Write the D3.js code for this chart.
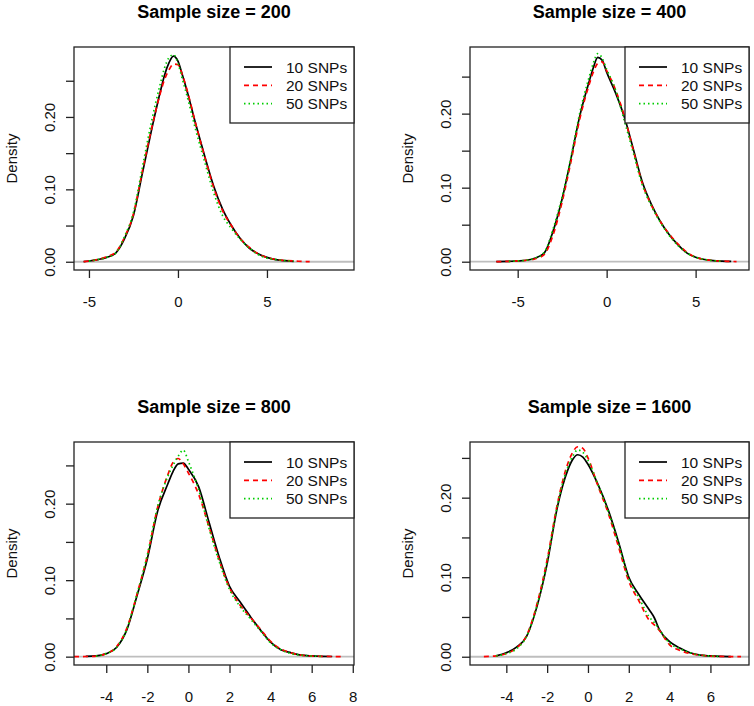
<!DOCTYPE html>
<html>
<head>
<meta charset="utf-8">
<script src="https://cdn.jsdelivr.net/npm/d3@7"></script>
<style>
  html, body { margin: 0; padding: 0; background: #fff; }
  svg { display: block; }
  text { font-family: "Liberation Sans", Arial, sans-serif; }
</style>
</head>
<body>
<svg id="chart" width="754" height="706"></svg>
<script>
// ---------------- DATA ----------------
const panelTitles = ["Sample size = 200", "Sample size = 400", "Sample size = 800", "Sample size = 1600"];
const seriesNames = ["10 SNPs", "20 SNPs", "50 SNPs"];
const seriesColors = ["#000000", "#FF0000", "#00CD00"];
const seriesDash = [null, "5,4", "1.5,3"];

const xLimits = [[-5.84, 9.89], [-7.68, 8.0], [-5.57, 8.06], [-5.78, 7.89]];
const yLimits = [[-0.0114, 0.2966], [-0.0112, 0.290], [-0.0109, 0.2806], [-0.0104, 0.270]];

const xTicks = [[-5, 0, 5], [-5, 0, 5], [-4, -2, 0, 2, 4, 6, 8], [-4, -2, 0, 2, 4, 6]];
const yTicks = [0, 0.05, 0.10, 0.15, 0.20, 0.25];
const yTickLabels = ["0.00", "", "0.10", "", "0.20", ""];

// Panel 1: sample size 200
const x200 = [-5.3,-5,-4.5,-4,-3.5,-3,-2.5,-2,-1.5,-1,-0.75,-0.5,-0.25,0,0.25,0.5,1,1.5,2,2.5,3,3.5,4,4.5,5,5.5,6,6.5,7,7.4];
const snp10_200 = [0.0003,0.001,0.003,0.006,0.012,0.032,0.064,0.122,0.180,0.234,0.258,0.275,0.284,0.277,0.258,0.237,0.190,0.146,0.105,0.073,0.050,0.032,0.019,0.011,0.006,0.003,0.0015,0.0006,null,null];
const snp20_200 = [0.0003,0.001,0.003,0.007,0.013,0.034,0.066,0.125,0.182,0.232,0.252,0.265,0.273,0.272,0.258,0.238,0.190,0.145,0.103,0.071,0.050,0.032,0.020,0.011,0.006,0.003,0.0018,0.0010,0.0005,0.0001];
const snp50_200 = [null,0.0008,0.003,0.006,0.012,0.035,0.068,0.130,0.192,0.245,0.268,0.282,0.286,0.274,0.252,0.230,0.182,0.138,0.096,0.064,0.046,0.031,0.019,0.010,0.005,0.003,0.0015,0.0008,null,null];

// Panel 2: sample size 400
const x400 = [-6.2,-5.5,-5,-4.5,-4,-3.5,-3,-2.5,-2,-1.5,-1,-0.75,-0.5,-0.25,0,0.5,1,1.5,2,2.5,3,3.5,4,4.5,5,5.5,6,6.5,7,7.3];
const snp10_400 = [0,0.0005,0.001,0.002,0.005,0.012,0.042,0.085,0.140,0.198,0.242,0.262,0.276,0.272,0.256,0.228,0.195,0.152,0.108,0.078,0.055,0.037,0.023,0.012,0.006,0.003,0.0015,0.0008,0.0004,null];
const snp20_400 = [0,0.0005,0.001,0.002,0.004,0.010,0.037,0.081,0.136,0.194,0.238,0.256,0.268,0.270,0.258,0.232,0.196,0.150,0.106,0.077,0.055,0.038,0.024,0.013,0.006,0.003,0.0015,0.0008,0.0004,0.0001];
const snp50_400 = [null,0.0004,0.001,0.002,0.005,0.013,0.045,0.088,0.142,0.202,0.248,0.268,0.281,0.275,0.260,0.232,0.190,0.147,0.104,0.076,0.054,0.036,0.022,0.012,0.006,0.003,0.0014,0.0006,null,null];

// Panel 3: sample size 800
const x800 = [-5.57,-5,-4.5,-4,-3.5,-3,-2.5,-2,-1.5,-1,-0.75,-0.5,-0.25,0,0.5,1,1.5,2,2.5,3,3.5,4,4.5,5,5.5,6,6.5,7,7.6];
const snp10_800 = [null,0.0005,0.001,0.004,0.012,0.035,0.080,0.128,0.190,0.226,0.242,0.252,0.253,0.245,0.222,0.176,0.130,0.092,0.072,0.053,0.035,0.019,0.009,0.005,0.002,0.001,0.0005,0.0002,null];
const snp20_800 = [0,0.0002,0.0008,0.004,0.013,0.037,0.082,0.132,0.195,0.238,0.254,0.259,0.252,0.240,0.212,0.170,0.126,0.090,0.068,0.052,0.036,0.020,0.010,0.005,0.002,0.0008,0.0004,0.0002,0.0001];
const snp50_800 = [null,null,0.0008,0.004,0.012,0.036,0.082,0.133,0.196,0.236,0.250,0.262,0.270,0.255,0.218,0.168,0.124,0.088,0.066,0.050,0.034,0.018,0.009,0.004,0.002,0.0008,0.0003,null,null];

// Panel 4: sample size 1600
const x1600 = [-5.1,-4.5,-4,-3.5,-3,-2.5,-2,-1.5,-1,-0.75,-0.5,-0.25,0,0.5,1,1.5,2,2.5,3,3.25,3.5,4,4.5,5,5.5,6,6.5,7,7.5];
const snp10_1600 = [null,0.001,0.005,0.012,0.026,0.063,0.117,0.188,0.234,0.248,0.254,0.251,0.242,0.216,0.184,0.144,0.100,0.078,0.059,0.049,0.034,0.019,0.011,0.005,0.002,0.001,0.0004,0.0002,null];
const snp20_1600 = [0.0002,0.001,0.004,0.011,0.027,0.066,0.122,0.192,0.242,0.257,0.264,0.262,0.250,0.214,0.180,0.138,0.095,0.070,0.046,0.040,0.033,0.015,0.008,0.004,0.002,0.0008,0.0004,0.0002,0.0001];
const snp50_1600 = [null,0.001,0.004,0.010,0.026,0.064,0.120,0.190,0.238,0.252,0.260,0.257,0.247,0.216,0.182,0.142,0.098,0.074,0.050,0.043,0.034,0.017,0.010,0.005,0.002,0.001,0.0004,null,null];

const panelX = [x200, x400, x800, x1600];
const panelY = [
  [snp10_200, snp20_200, snp50_200],
  [snp10_400, snp20_400, snp50_400],
  [snp10_800, snp20_800, snp50_800],
  [snp10_1600, snp20_1600, snp50_1600]
];

// ---------------- LAYOUT ----------------
const boxes = [
  {l: 74, r: 354, t: 47, b: 270},
  {l: 470, r: 749, t: 47, b: 270},
  {l: 74, r: 354, t: 442, b: 665},
  {l: 470, r: 749, t: 442, b: 665}
];

const svg = d3.select("#chart");
const axisFont = 15;
const tickLen = 8;

boxes.forEach((bx, p) => {
  const x = d3.scaleLinear().domain(xLimits[p]).range([bx.l, bx.r]);
  const y = d3.scaleLinear().domain(yLimits[p]).range([bx.b, bx.t]);
  const g = svg.append("g");

  // zero reference line
  g.append("line")
    .attr("x1", bx.l).attr("x2", bx.r)
    .attr("y1", y(0)).attr("y2", y(0))
    .attr("stroke", "#bebebe").attr("stroke-width", 1.8);

  // density curves
  const xs = panelX[p];
  panelY[p].forEach((ys, s) => {
    const pts = xs.map((xv, i) => [xv, ys[i]]);
    const line = d3.line()
      .defined(d => d[1] !== null)
      .x(d => x(d[0])).y(d => y(d[1]))
      .curve(d3.curveMonotoneX);
    g.append("path")
      .attr("d", line(pts))
      .attr("fill", "none")
      .attr("stroke", seriesColors[s])
      .attr("stroke-width", 1.7)
      .attr("stroke-dasharray", seriesDash[s]);
  });

  // frame
  g.append("rect")
    .attr("x", bx.l).attr("y", bx.t)
    .attr("width", bx.r - bx.l).attr("height", bx.b - bx.t)
    .attr("fill", "none").attr("stroke", "#222").attr("stroke-width", 1.3);

  // x axis
  const xa = g.append("g")
    .attr("transform", `translate(0,${bx.b})`)
    .call(d3.axisBottom(x).tickValues(xTicks[p]).tickSize(tickLen).tickFormat(d3.format("d")));
  xa.select(".domain").remove();
  xa.selectAll(".tick line").attr("stroke", "#222").attr("stroke-width", 1.3);
  xa.selectAll(".tick text")
    .attr("y", 31).attr("dy", null)
    .attr("dominant-baseline", "central")
    .style("font-family", "Liberation Sans, Arial, sans-serif")
    .style("font-size", axisFont + "px")
    .attr("fill", "#111")
    .text(d => d < 0 ? "-" + Math.abs(d) : String(d));

  // y axis
  const ya = g.append("g")
    .attr("transform", `translate(${bx.l},0)`)
    .call(d3.axisLeft(y).tickValues(yTicks).tickSize(tickLen).tickFormat((d, i) => yTickLabels[i]));
  ya.select(".domain").remove();
  ya.selectAll(".tick line").attr("stroke", "#222").attr("stroke-width", 1.3);
  ya.selectAll(".tick text")
    .attr("x", null).attr("dy", null)
    .attr("transform", "translate(-25,0) rotate(-90)")
    .attr("text-anchor", "middle")
    .attr("dominant-baseline", "central")
    .style("font-family", "Liberation Sans, Arial, sans-serif")
    .style("font-size", axisFont + "px")
    .attr("fill", "#111");

  // y axis title
  g.append("text")
    .attr("transform", `translate(${bx.l - 63},${(bx.t + bx.b) / 2}) rotate(-90)`)
    .attr("text-anchor", "middle")
    .attr("dominant-baseline", "central")
    .style("font-size", axisFont + "px")
    .attr("fill", "#111")
    .text("Density");

  // panel title
  g.append("text")
    .attr("x", (bx.l + bx.r) / 2)
    .attr("y", bx.t - 35)
    .attr("text-anchor", "middle")
    .attr("dominant-baseline", "central")
    .style("font-size", "18px")
    .style("font-weight", "bold")
    .attr("fill", "#000")
    .text(panelTitles[p]);

  // legend
  const lw = 124, lh = 76;
  const lg = g.append("g").attr("transform", `translate(${bx.r - lw},${bx.t})`);
  lg.append("rect")
    .attr("width", lw).attr("height", lh)
    .attr("fill", "#fff").attr("stroke", "#222").attr("stroke-width", 1.3);
  seriesNames.forEach((nm, s) => {
    const ry = 20 + s * 18.3;
    lg.append("line")
      .attr("x1", 14).attr("x2", 42)
      .attr("y1", ry).attr("y2", ry)
      .attr("stroke", seriesColors[s])
      .attr("stroke-width", 1.7)
      .attr("stroke-dasharray", seriesDash[s]);
    lg.append("text")
      .attr("x", 56).attr("y", ry)
      .attr("dominant-baseline", "central")
      .style("font-size", "15.5px")
      .attr("fill", "#111")
      .text(nm);
  });
});
</script>
</body>
</html>
